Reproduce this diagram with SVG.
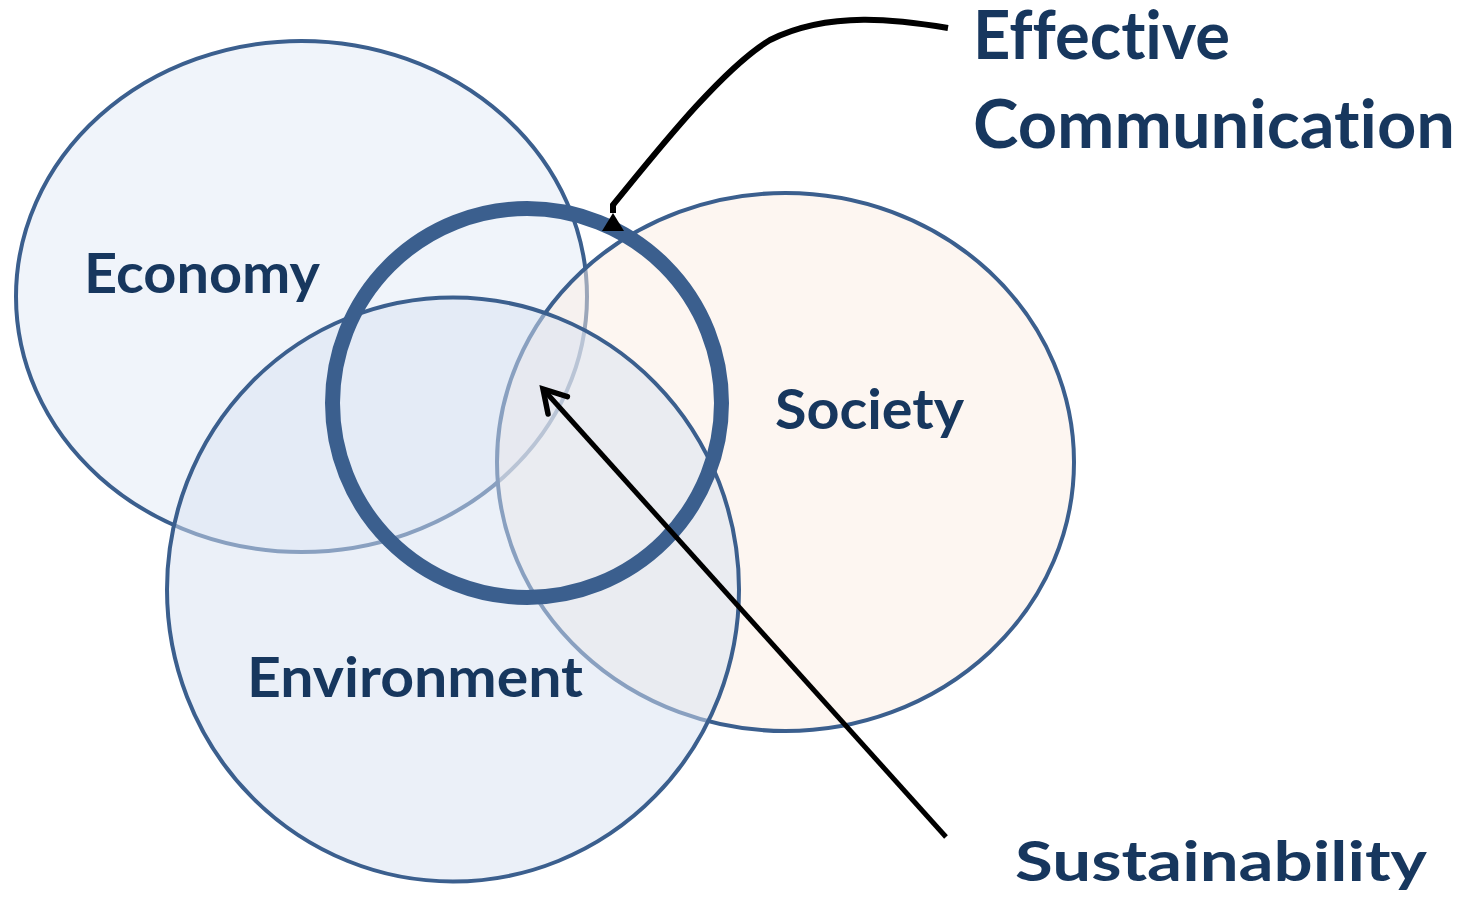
<svg xmlns="http://www.w3.org/2000/svg" width="1468" height="899" viewBox="0 0 1468 899">
  <style>
    .set { stroke: #3B5F8E; stroke-width: 4; fill-opacity: 0.5; }
    .ring { fill: none; stroke: #3B5F8E; stroke-width: 15; }
    .lbl { font-family: Lato, "Open Sans", "Liberation Sans", sans-serif; font-weight: bold; fill: #17375E; font-variant-ligatures: none; font-feature-settings: "liga" 0, "clig" 0, "dlig" 0; }
    .conn { fill: none; stroke: #000000; }
  </style>
  <defs>
    <marker id="tri" markerUnits="userSpaceOnUse" viewBox="-2 -14 22 28" markerWidth="22" markerHeight="28" refX="0" refY="0" orient="auto">
      <path d="M0 0 L18 -11 L18 11 Z" fill="#000000"/>
    </marker>
    <marker id="chev" markerUnits="userSpaceOnUse" viewBox="-30 -20 40 40" markerWidth="40" markerHeight="40" refX="0" refY="0" orient="auto">
      <path d="M-22 -13 L0 0 L-22 13" fill="none" stroke="#000000" stroke-width="5.5" stroke-linecap="round" stroke-linejoin="miter"/>
    </marker>
  </defs>
  <rect width="1468" height="899" fill="#FFFFFF"/>

  <g id="economy">
    <ellipse class="set" cx="301.5" cy="296.5" rx="285.5" ry="255.5" fill="#E1E9F5"/>
  </g>
  <g id="society">
    <ellipse class="set" cx="785.5" cy="462" rx="288.5" ry="269" fill="#FBEDE3"/>
  </g>
  <g id="environment">
    <ellipse class="set" cx="453" cy="589.5" rx="286" ry="292" fill="#D7E1F1"/>
  </g>
  <g id="sustainability-ring">
    <circle class="ring" cx="527" cy="403" r="194.5"/>
  </g>

  <g id="labels">
    <text class="lbl" x="84" y="293" font-size="56" textLength="236" lengthAdjust="spacingAndGlyphs">Economy</text>
    <text class="lbl" x="775" y="429" font-size="56" textLength="189" lengthAdjust="spacingAndGlyphs">Society</text>
    <text class="lbl" x="247" y="697" font-size="56" textLength="336" lengthAdjust="spacingAndGlyphs">Environment</text>
  </g>

  <g id="effective-communication">
    <text class="lbl" x="973" y="59" font-size="66" textLength="257" lengthAdjust="spacingAndGlyphs">Effective</text>
    <text class="lbl" x="973" y="148" font-size="66" textLength="482" lengthAdjust="spacingAndGlyphs">Communication</text>
  </g>
  <g id="sustainability">
    <text class="lbl" x="1015" y="881" font-size="56" textLength="412" lengthAdjust="spacingAndGlyphs">Sustainability</text>
  </g>

  <g id="connectors">
    <path class="conn" stroke-width="6" d="M948 28 C900 20 830 10 770 40 C720 70 650 160 613 205 L613 213" marker-end="url(#tri)"/>
    <path class="conn" stroke-width="5" d="M946 837 L543 389" marker-end="url(#chev)"/>
  </g>
</svg>
